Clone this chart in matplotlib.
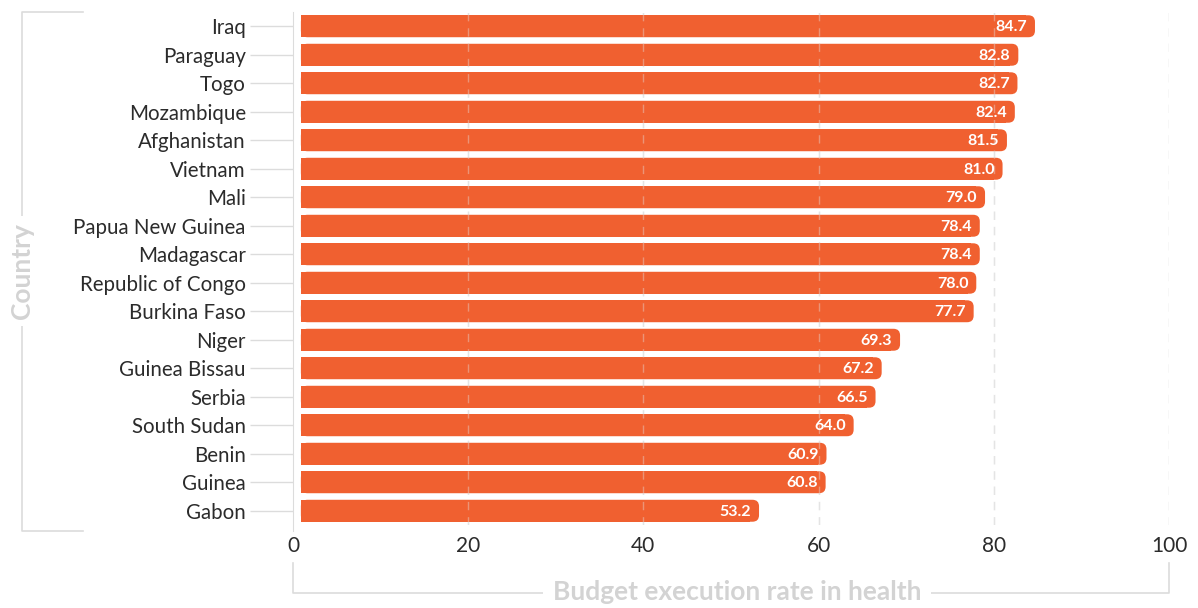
import matplotlib
matplotlib.use("Agg")
import matplotlib.pyplot as plt
from matplotlib.patches import FancyBboxPatch, Rectangle
from matplotlib.lines import Line2D

plt.rcParams['font.family'] = ['Lato', 'DejaVu Sans']

countries = ["Iraq", "Paraguay", "Togo", "Mozambique", "Afghanistan", "Vietnam", "Mali",
             "Papua New Guinea", "Madagascar", "Republic of Congo", "Burkina Faso", "Niger",
             "Guinea Bissau", "Serbia", "South Sudan", "Benin", "Guinea", "Gabon"]
rates = [84.7, 82.8, 82.7, 82.4, 81.5, 81.0, 79.0, 78.4, 78.4, 78.0, 77.7, 69.3,
         67.2, 66.5, 64.0, 60.9, 60.8, 53.2]
xticks = [0, 20, 40, 60, 80, 100]

bar_color = "#F06030"
grid_color = "#DCDCDC"
text_color = "#2B2B2B"

W, H = 1198, 608
fig = plt.figure(figsize=(W / 100, H / 100), dpi=100)
ax = fig.add_axes([293 / W, 1 - 525 / H, 876 / W, 513 / H])

ax.set_xlim(0, 100)
ax.set_ylim(len(countries) - 0.5, -0.5)

# aspect between x units and y units (pixels per unit)
px_x = 876 / 100
px_y = 513 / len(countries)
aspect = px_x / px_y
bh = 0.77
start = 0.9
for i, v in enumerate(rates):
    box = FancyBboxPatch((start, i - bh / 2), v - start, bh,
                         boxstyle="round,pad=0,rounding_size=0.75",
                         mutation_aspect=aspect, fc=bar_color, ec="none", zorder=3)
    ax.add_patch(box)
    # square off the left corners
    ax.add_patch(Rectangle((start, i - bh / 2), v - start - 1.0, bh,
                           fc=bar_color, ec="none", antialiased=False, zorder=3))
    ax.text(v - 0.9, i + 0.04, "%.1f" % v, ha="right", va="center", color="white",
            fontsize=11.5, fontweight="bold", zorder=6)

for x in xticks[1:]:
    ax.axvline(x, color="#E4E4E4", lw=1, ls=(0, (6, 5)), alpha=0.4, zorder=5)
    ax.axvline(x, color="#E4E4E4", lw=1, ls=(0, (6, 5)), zorder=1)

for s in ["top", "right", "bottom"]:
    ax.spines[s].set_visible(False)
ax.spines["left"].set_color(grid_color)
ax.spines["left"].set_bounds(-0.5, len(countries) - 0.3)

ax.set_yticks(range(len(countries)))
ax.set_yticklabels(countries, fontsize=14.8, color=text_color)
ax.tick_params(axis="y", length=31, width=1, color=grid_color, pad=3)
ax.set_xticks(xticks)
ax.set_xticklabels([str(t) for t in xticks], fontsize=15, color=text_color)
ax.tick_params(axis="x", length=0, pad=8)

# axis titles with brackets
label_grey = "#D3D3D3"
def fig_line(xs, ys):
    fig.add_artist(Line2D([x / W for x in xs], [1 - y / H for y in ys],
                          color=grid_color, lw=1.2, transform=fig.transFigure))

fig_line([83, 22, 22, 83], [12, 12, 531, 531])
fig.text(22 / W, 1 - 271 / H, "Country", rotation=90, ha="center", va="center",
         fontsize=19, fontweight="bold", color=label_grey,
         bbox=dict(fc="white", ec="none", pad=5))

fig_line([293, 293, 1169, 1169], [563, 593, 593, 563])
fig.text(737 / W, 1 - 592 / H, "Budget execution rate in health", ha="center", va="center",
         fontsize=19, fontweight="bold", color=label_grey,
         bbox=dict(fc="white", ec="none", pad=7))

fig.savefig("out.png", dpi=100)
